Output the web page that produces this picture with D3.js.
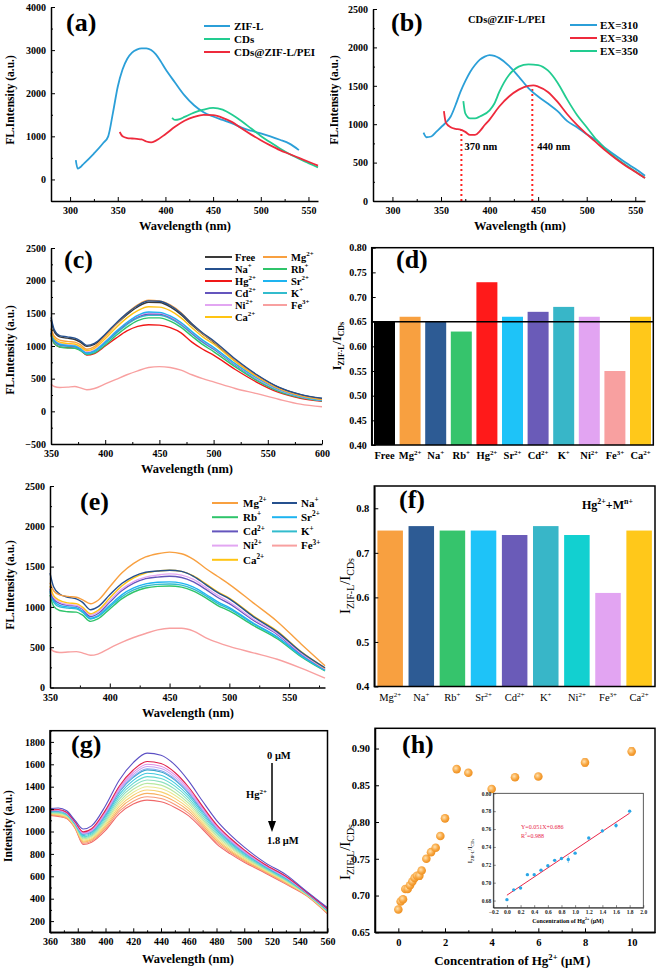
<!DOCTYPE html>
<html><head><meta charset="utf-8">
<script src="https://cdn.jsdelivr.net/npm/d3@7"></script>
<style>body{margin:0;background:#fff}svg{display:block}</style>
</head><body>
<script>
// ---------------- DATA ----------------
// (a)
const aWaveZIF = [306,308,315,325,335,340,345,350,355,360,365,370,375,380,385,390,395,400,410,420,430,440,450,460,470,480,490,500,510,520,530,540];
const aZIF     = [450,250,380,600,850,1000,1550,2150,2550,2800,2940,3010,3040,3040,3000,2900,2740,2560,2250,1950,1720,1560,1460,1380,1300,1200,1130,1070,1000,920,830,680];
const aWaveCDs = [407,410,415,420,430,440,450,460,470,480,490,500,510,520,530,540,550,560];
const aCDs     = [1430,1380,1400,1450,1550,1620,1660,1620,1500,1350,1180,1010,860,720,590,480,380,280];
const aWavePEI = [352,355,360,365,370,375,380,385,390,400,410,420,430,440,450,460,470,480,490,500,510,520,530,540,550,560];
const aPEI     = [1100,1000,960,950,940,930,880,860,900,1050,1220,1360,1450,1500,1490,1430,1330,1180,1040,910,790,680,590,500,410,320];
const aNames = ["ZIF-L","CDs","CDs@ZIF-L/PEI"];
const aXTicks = [300,350,400,450,500,550];
const aYTicks = [0,1000,2000,3000,4000];
// (b)
const bWave310 = [332,335,340,345,350,355,360,365,370,375,380,385,390,395,400,405,410,420,430,440,450,460,470,480,490,500,510,520,530,540,550,560];
const b310     = [890,830,840,900,960,1020,1100,1250,1420,1560,1680,1770,1840,1880,1900,1890,1860,1760,1620,1470,1360,1270,1170,1040,960,870,790,680,590,500,420,330];
const bWave330 = [353,355,360,365,370,375,380,385,390,395,400,410,420,430,440,445,450,460,470,480,490,500,510,520,530,540,550,560];
const b330     = [1170,1020,960,940,930,900,860,860,910,990,1060,1230,1360,1450,1500,1505,1490,1420,1290,1130,990,870,760,650,550,460,380,300];
const bWave350 = [373,375,380,385,390,400,405,410,420,430,440,450,460,470,480,490,500,510,520,530,540,550,560];
const b350     = [1300,1140,1075,1075,1100,1180,1270,1420,1640,1750,1780,1770,1700,1540,1320,1120,960,800,670,560,470,385,300];
const bNames = ["EX=310","EX=330","EX=350"];
const bMarks = [[371,930],[444,1505]];
const bYTicks = [0,500,1000,1500,2000,2500];
// (c)
const cWave = [350,353,358,365,372,377,383,390,400,410,420,430,440,450,460,470,480,490,500,520,540,560,580,600];
const c_Na   = [1440,1250,1160,1140,1120,1080,1010,1040,1180,1350,1500,1620,1690,1685,1620,1500,1340,1200,1080,800,560,370,260,200];
const c_Mg   = [1270,1150,1090,1070,1060,1020,950,990,1150,1330,1500,1630,1700,1690,1630,1510,1340,1190,1070,780,540,350,240,185];
const c_Free = [1400,1220,1140,1120,1100,1060,995,1025,1165,1330,1480,1600,1670,1665,1600,1480,1320,1180,1060,785,550,365,255,195];
const c_Ca   = [1260,1120,1060,1040,1030,990,930,965,1110,1280,1430,1540,1600,1595,1540,1430,1280,1140,1030,760,530,350,240,180];
const c_Sr   = [1220,1090,1030,1010,1000,960,890,925,1060,1220,1360,1470,1520,1515,1460,1360,1220,1090,980,730,510,335,230,170];
const c_Ni   = [1230,1100,1040,1025,1015,975,910,940,1070,1225,1360,1460,1510,1505,1450,1350,1210,1080,970,720,500,330,225,168];
const c_Cd   = [1200,1080,1020,1005,995,955,900,930,1060,1210,1345,1445,1490,1490,1440,1340,1200,1070,960,715,500,330,225,168];
const c_K    = [1200,1070,1010,995,985,945,880,910,1040,1190,1325,1425,1470,1470,1420,1320,1185,1055,950,705,490,320,220,165];
const c_Rb   = [1160,1040,985,970,965,930,870,895,1015,1160,1290,1390,1430,1430,1380,1285,1150,1020,915,680,470,305,210,160];
const c_Hg   = [1180,1040,985,975,970,940,860,885,1000,1120,1230,1300,1325,1320,1280,1200,1060,950,860,640,445,290,200,155];
const c_Fe   = [420,380,365,370,380,360,330,350,420,490,560,620,670,685,670,630,560,500,450,350,270,185,110,70];
// (d)
const dCats = ["Free","Mg^{2+}","Na^{+}","Rb^{+}","Hg^{2+}","Sr^{2+}","Cd^{2+}","K^{+}","Ni^{2+}","Fe^{3+}","Ca^{2+}"];
const dVals = [0.65,0.66,0.65,0.63,0.73,0.66,0.67,0.68,0.66,0.55,0.66];
const dRef = 0.65;
// (e)
const eWave = [350,353,358,365,372,377,384,390,400,410,420,430,440,450,460,470,480,490,500,520,540,560,580];
const e_Mg = [1300,1200,1150,1130,1120,1090,1040,1080,1250,1420,1540,1620,1660,1680,1660,1590,1480,1380,1280,1050,820,540,270];
const e_Na = [1420,1250,1160,1120,1100,1060,965,1000,1150,1290,1380,1430,1445,1455,1440,1380,1280,1180,1100,880,690,440,245];
const e_Ca = [1260,1140,1080,1050,1040,1000,915,955,1110,1260,1360,1420,1445,1455,1440,1385,1290,1190,1110,890,700,445,240];
const e_Ni = [1240,1120,1060,1030,1020,985,900,935,1080,1220,1315,1370,1395,1410,1395,1340,1245,1145,1060,850,670,425,230];
const e_Cd = [1220,1100,1045,1020,1010,975,880,915,1060,1200,1295,1350,1370,1380,1365,1310,1220,1120,1040,835,660,418,228];
const e_Sr = [1200,1080,1020,1000,990,950,860,890,1020,1150,1235,1285,1305,1310,1295,1245,1160,1065,990,800,630,400,215];
const e_K  = [1180,1060,1000,985,975,935,850,880,1000,1125,1210,1260,1280,1285,1270,1220,1140,1045,975,790,620,392,212];
const e_Rb = [1150,1010,955,940,935,900,820,850,975,1100,1185,1235,1255,1260,1245,1195,1115,1020,950,770,605,382,205];
const e_Fe = [490,450,435,440,445,430,400,415,490,560,620,670,715,735,735,700,620,560,510,430,350,240,115];
// (f)
const fCats = ["Mg^{2+}","Na^{+}","Rb^{+}","Sr^{2+}","Cd^{2+}","K^{+}","Ni^{2+}","Fe^{3+}","Ca^{2+}"];
const fVals = [0.75,0.76,0.75,0.75,0.74,0.76,0.74,0.61,0.75];
// (g)
const gWave = [360,366,372,378,384,390,400,410,420,430,440,450,460,470,480,490,500,515,530,545,560];
const gConc = ["0","0.1","0.2","0.3","0.4","0.5","0.6","0.7","0.8","0.9","1.0","1.2","1.4","1.6","1.8"];
const g_0_0 = [1204,1210,1185,1100,1022,1050,1230,1460,1615,1700,1681,1595,1450,1270,1100,970,860,722,615,465,320];
const g_0_1 = [1193,1197,1172,1087,997,1024,1191,1406,1549,1625,1607,1527,1395,1225,1062,940,836,706,600,458,310];
const g_0_2 = [1190,1192,1168,1083,989,1015,1178,1389,1527,1600,1582,1505,1376,1211,1050,930,828,700,595,455,307];
const g_0_3 = [1187,1189,1165,1080,983,1009,1167,1374,1509,1580,1562,1486,1361,1199,1040,921,821,696,591,454,304];
const g_0_4 = [1184,1185,1162,1077,976,1002,1157,1360,1492,1560,1542,1468,1347,1187,1030,913,815,691,587,452,302];
const g_0_5 = [1183,1183,1160,1075,973,998,1151,1353,1483,1550,1532,1459,1339,1181,1025,909,812,689,585,451,300];
const g_0_6 = [1178,1178,1155,1070,963,988,1136,1331,1456,1520,1503,1432,1317,1163,1010,897,802,683,579,448,296];
const g_0_7 = [1174,1172,1150,1065,953,977,1120,1310,1430,1490,1473,1405,1295,1145,995,885,792,676,572,445,292];
const g_0_8 = [1170,1167,1145,1060,944,967,1104,1289,1404,1460,1443,1378,1273,1127,980,873,783,669,566,442,289];
const g_0_9 = [1165,1162,1140,1055,934,957,1089,1267,1377,1430,1414,1351,1251,1109,965,861,773,663,560,439,285];
const g_1_0 = [1161,1156,1135,1050,924,946,1073,1246,1351,1400,1384,1324,1229,1092,950,849,764,656,554,436,281];
const g_1_2 = [1157,1151,1130,1045,914,936,1057,1224,1324,1370,1354,1296,1206,1074,935,836,754,650,548,434,277];
const g_1_4 = [1153,1146,1125,1040,905,926,1041,1203,1298,1340,1324,1269,1184,1056,920,824,744,643,542,431,273];
const g_1_6 = [1148,1140,1120,1035,895,915,1026,1181,1271,1310,1295,1242,1162,1038,905,812,735,637,536,428,269];
const g_1_8 = [1144,1135,1115,1030,885,905,1010,1160,1245,1280,1265,1215,1140,1020,890,800,725,630,530,425,265];
// (h)
const hConc  = [0,0.1,0.2,0.3,0.4,0.5,0.6,0.7,0.8,0.9,1.0,1.2,1.4,1.6,1.8,2.0,2.5,3.0,4.0,5.0,6.0,8.0,10.0];
const hRatio = [0.681,0.692,0.695,0.709,0.709,0.714,0.719,0.724,0.727,0.727,0.734,0.750,0.759,0.765,0.781,0.805,0.872,0.867,0.845,0.861,0.862,0.881,0.896];
const hErr   = [0.002,0.002,0.002,0.002,0.002,0.002,0.002,0.002,0.003,0.005,0.002,0.002,0.002,0.003,0.002,0.004,0.002,0.002,0.002,0.002,0.002,0.005,0.005];
const inConc  = [0,0.1,0.2,0.3,0.4,0.5,0.6,0.7,0.8,0.9,1.0,1.2,1.4,1.6,1.8];
const inRatio = [0.681,0.692,0.694,0.709,0.709,0.714,0.719,0.725,0.727,0.726,0.733,0.750,0.758,0.764,0.780];
const inErr   = [0.001,0.001,0.001,0.001,0.001,0.001,0.001,0.001,0.001,0.004,0.001,0.001,0.002,0.003,0.001];
const fitSlope = 0.051, fitIntercept = 0.686, fitR2 = "0.988";

// ---------------- STYLES ----------------
const FONT = "'Liberation Serif','Times New Roman',Times,serif";
const BLUE = "#2b9fd8", RED = "#ee2a3c", GREEN = "#22cc90";
const ionColor = {Free:"#3a3a3a", Mg:"#f8a040", Na:"#25508e", Rb:"#2fc46a", Hg:"#f01818", Sr:"#1eb4f0",
  Cd:"#6455bd", K:"#32bccd", Ni:"#e2a6f2", Fe:"#f8a0a0", Ca:"#ffc412"};
const dColors = ["#000000","#f8a040","#2d5b94","#36c46c","#ff1a1a","#1ec3f8","#6a5bb8","#38b6c8","#e2a4f2","#f8a0a0","#ffc81a"];
const fColors = ["#f8a040","#2d5b94","#36c46c","#1ec3f8","#6a5bb8","#38b6c8","#12d0d0","#e2a4f2","#ffc81a"];
const gColors = ["#5b4fc4","#e0204a","#e28ee6","#c8a4f2","#80a8f0","#3aa8c8","#40c8e0","#60d8d0","#90e0c0","#b8e8a0","#e8e890","#f8d070","#f8b060","#f89878","#f06868"];

// ---------------- HELPERS ----------------
const svg = d3.select("body").append("svg").attr("width",661).attr("height",969)
  .style("font-family",FONT);
const defs = svg.append("defs");
const rg = defs.append("radialGradient").attr("id","ball").attr("cx","40%").attr("cy","40%").attr("r","60%");
rg.append("stop").attr("offset","0%").attr("stop-color","#ffe2b0");
rg.append("stop").attr("offset","60%").attr("stop-color","#f8a844");
rg.append("stop").attr("offset","100%").attr("stop-color","#ee9020");
defs.append("clipPath").attr("id","clipB").append("rect").attr("x",330).attr("y",0).attr("width",331).attr("height",240);

function rich(t, str, fs){
  const parts = str.match(/\^\{[^}]*\}|_\{[^}]*\}|[^^_]+/g) || [];
  let shift = 0;
  parts.forEach(p=>{
    const ts = t.append("tspan");
    if(p[0]==="^"){ const s=-fs*0.42; ts.text(p.slice(2,-1)).attr("font-size",fs*0.66).attr("dy",s-shift); shift=s; }
    else if(p[0]==="_"){ const s=fs*0.28; ts.text(p.slice(2,-1)).attr("font-size",fs*0.66).attr("dy",s-shift); shift=s; }
    else { ts.text(p).attr("dy",-shift); shift=0; }
  });
  return t;
}
function label(g,x,y,str,fs,o={}){
  const t = g.append("text").attr("x",x).attr("y",y).attr("font-size",fs)
    .attr("font-weight",o.weight||"bold").attr("fill",o.fill||"#000")
    .attr("text-anchor",o.anchor||"start").attr("font-family",FONT);
  if(o.rotate) t.attr("transform",`rotate(${o.rotate},${x},${y})`);
  return rich(t,str,fs);
}
function styleAx(sel,fs,weight){
  sel.attr("font-family",FONT).attr("font-size",fs).attr("font-weight",weight||"bold");
  sel.select(".domain").attr("stroke-width",1.5).attr("stroke","#000");
  sel.selectAll(".tick line").attr("stroke-width",1).attr("stroke","#000");
  sel.selectAll(".tick text").attr("fill","#000");
}
function axes(c){
  const g = svg.append("g");
  const yb = c.y.range()[0], xl = c.x.range()[0];
  const fs = c.fs || 10;
  if(c.xMinor){ const m=g.append("g").attr("transform",`translate(0,${yb})`).call(d3.axisBottom(c.x).tickValues(c.xMinor).tickSizeInner(-2).tickSizeOuter(0).tickFormat("")); m.select(".domain").remove(); m.selectAll("line").attr("stroke","#000"); }
  if(c.yMinor){ const m=g.append("g").attr("transform",`translate(${xl},0)`).call(d3.axisLeft(c.y).tickValues(c.yMinor).tickSizeInner(-2).tickSizeOuter(0).tickFormat("")); m.select(".domain").remove(); m.selectAll("line").attr("stroke","#000"); }
  if(c.xTicks){
    const gx = g.append("g").attr("transform",`translate(0,${yb})`)
      .call(d3.axisBottom(c.x).tickValues(c.xTicks).tickSizeInner(-(c.tick||4)).tickSizeOuter(0).tickPadding(c.xpad||6).tickFormat(c.xFmt||d3.format("d")));
    styleAx(gx,fs,c.weight);
  }
  const gy = g.append("g").attr("transform",`translate(${xl},0)`)
    .call(d3.axisLeft(c.y).tickValues(c.yTicks).tickSizeInner(-(c.tick||4)).tickSizeOuter(0).tickPadding(c.ypad||5).tickFormat(c.yFmt||d3.format("d")));
  styleAx(gy,fs,c.weight);
  if(c.box){
    const [x0,x1]=c.x.range(), [y0,y1]=c.y.range();
    g.append("rect").attr("x",x0).attr("y",y1).attr("width",x1-x0).attr("height",y0-y1)
      .attr("fill","none").attr("stroke","#000").attr("stroke-width",c.boxW||1.5);
  }
  return g;
}
function drawLine(g,x,y,xs,ys,color,w){
  const pts = xs.map((v,i)=>[v,ys[i]]);
  g.append("path").datum(pts).attr("fill","none").attr("stroke",color).attr("stroke-width",w)
    .attr("stroke-linejoin","round")
    .attr("d",d3.line().x(d=>x(d[0])).y(d=>y(d[1])).curve(d3.curveMonotoneX));
}
function legendItem(g,x1,x2,tx,y,color,str,fs){
  g.append("line").attr("x1",x1).attr("x2",x2).attr("y1",y).attr("y2",y).attr("stroke",color).attr("stroke-width",2);
  label(g,tx,y+fs*0.35,str,fs);
}

// ---------------- PANEL (a) ----------------
{
  const x = d3.scaleLinear().domain([280,560]).range([51,318]);
  const y = d3.scaleLinear().domain([-500,4000]).range([201,7]);
  const g = svg.append("g");
  drawLine(g,x,y,aWaveZIF,aZIF,BLUE,1.8);
  drawLine(g,x,y,aWaveCDs,aCDs,GREEN,1.8);
  drawLine(g,x,y,aWavePEI,aPEI,RED,1.8);
  axes({x,y,xTicks:aXTicks,yTicks:aYTicks,xMinor:[325,375,425,475,525],yMinor:[-500,500,1500,2500,3500],fs:10});
  label(svg,66,31,"(a)",26);
  [BLUE,GREEN,RED].forEach((c,i)=>legendItem(svg,204,230,234,26+i*13,c,aNames[i],11));
  label(svg,185,230,"Wavelength (nm)",12.5,{anchor:"middle"});
  label(svg,14,100,"FL.Intensity (a.u.)",11.5,{anchor:"middle",rotate:-90});
}
// ---------------- PANEL (b) ----------------
{
  const x = d3.scaleLinear().domain([280,560]).range([373,645]);
  const y = d3.scaleLinear().domain([0,2500]).range([201,9]);
  const g = svg.append("g");
  bMarks.forEach(m=>{
    g.append("line").attr("x1",x(m[0])).attr("x2",x(m[0])).attr("y1",y(0)).attr("y2",y(m[1]))
      .attr("stroke","#ff2020").attr("stroke-width",2).attr("stroke-dasharray","2,3");
  });
  drawLine(g,x,y,bWave310,b310,BLUE,1.8);
  drawLine(g,x,y,bWave350,b350,GREEN,1.8);
  drawLine(g,x,y,bWave330,b330,RED,1.8);
  axes({x,y,xTicks:aXTicks,yTicks:bYTicks,xMinor:[325,375,425,475,525],yMinor:[250,750,1250,1750,2250],fs:10});
  label(svg,391,31,"(b)",26);
  label(svg,468,23,"CDs@ZIF-L/PEI",10.5);
  [BLUE,RED,GREEN].forEach((c,i)=>legendItem(svg,570,597,600,25+i*13,c,bNames[i],11));
  label(svg,x(bMarks[0][0])+3,150,"370 nm",10.5);
  label(svg,x(bMarks[1][0])+5,150,"440 nm",10.5);
  label(svg,520,230,"Wavelength (nm)",12.5,{anchor:"middle"});
  const yl = svg.append("g").attr("clip-path","url(#clipB)");
  label(yl,338,100,"FL.Intensity (a.u.)",11.5,{anchor:"middle",rotate:-90});
}
// ---------------- PANEL (c) ----------------
{
  const x = d3.scaleLinear().domain([350,600]).range([51,322]);
  const y = d3.scaleLinear().domain([-500,2500]).range([444,248]);
  const g = svg.append("g");
  const order = [["Fe",c_Fe],["Hg",c_Hg],["Rb",c_Rb],["K",c_K],["Cd",c_Cd],["Ni",c_Ni],["Sr",c_Sr],["Ca",c_Ca],["Free",c_Free],["Mg",c_Mg],["Na",c_Na]];
  order.forEach(([k,v])=>drawLine(g,x,y,cWave,v,ionColor[k],1.4));
  axes({x,y,xTicks:[350,400,450,500,550,600],yTicks:[-500,0,500,1000,1500,2000,2500],xMinor:[375,425,475,525,575],yMinor:[-250,250,750,1250,1750,2250],fs:10});
  label(svg,64,268,"(c)",26);
  const col1 = [["Free","Free"],["Na","Na^{+}"],["Hg","Hg^{2+}"],["Cd","Cd^{2+}"],["Ni","Ni^{2+}"],["Ca","Ca^{2+}"]];
  const col2 = [["Mg","Mg^{2+}"],["Rb","Rb^{+}"],["Sr","Sr^{2+}"],["K","K^{+}"],["Fe","Fe^{3+}"]];
  col1.forEach((d,i)=>legendItem(svg,205,232,235,257+i*12,ionColor[d[0]],d[1],10.5));
  col2.forEach((d,i)=>legendItem(svg,263,287,291,257+i*12,ionColor[d[0]],d[1],10.5));
  label(svg,187,473,"Wavelength (nm)",12.5,{anchor:"middle"});
  label(svg,14,350,"FL.Intensity (a.u.)",11.5,{anchor:"middle",rotate:-90});
}
// ---------------- PANEL (d) ----------------
{
  const x = d3.scaleBand().domain(dCats).range([371.7,653.3]).paddingInner(0.18).paddingOuter(0.09);
  const y = d3.scaleLinear().domain([0.40,0.80]).range([445,247.7]);
  const g = svg.append("g");
  g.selectAll("rect.bar").data(dCats).enter().append("rect")
    .attr("x",d=>x(d)).attr("width",x.bandwidth())
    .attr("y",(d,i)=>y(dVals[i])).attr("height",(d,i)=>y(0.40)-y(dVals[i]))
    .attr("fill",(d,i)=>dColors[i]);
  g.append("line").attr("x1",371.7).attr("x2",653.3).attr("y1",y(dRef)).attr("y2",y(dRef)).attr("stroke","#000").attr("stroke-width",1.5);
  axes({x:d3.scaleLinear().range([371.7,653.3]),y,yTicks:d3.range(0.40,0.801,0.05),yFmt:d3.format(".2f"),box:true,fs:10});
  dCats.forEach(d=>label(svg,x(d)+x.bandwidth()/2,459,d,10.5,{anchor:"middle"}));
  label(svg,396,268,"(d)",26);
  label(svg,341,346,"I_{ZIF-L}/I_{CDs}",12,{anchor:"middle",rotate:-90});
}
// ---------------- PANEL (e) ----------------
{
  const x = d3.scaleLinear().domain([350,580]).range([50,325]);
  const y = d3.scaleLinear().domain([0,2500]).range([687.5,486]);
  const g = svg.append("g");
  const order = [["Fe",e_Fe],["Rb",e_Rb],["K",e_K],["Sr",e_Sr],["Cd",e_Cd],["Ni",e_Ni],["Ca",e_Ca],["Na",e_Na],["Mg",e_Mg]];
  order.forEach(([k,v])=>drawLine(g,x,y,eWave,v,ionColor[k],1.4));
  axes({x,y,xTicks:[350,400,450,500,550],yTicks:[0,500,1000,1500,2000,2500],xMinor:[375,425,475,525,575],yMinor:[250,750,1250,1750,2250],fs:10});
  label(svg,80,510,"(e)",26);
  const col1 = [["Mg","Mg^{2+}"],["Rb","Rb^{+}"],["Cd","Cd^{2+}"],["Ni","Ni^{2+}"],["Ca","Ca^{2+}"]];
  const col2 = [["Na","Na^{+}"],["Sr","Sr^{2+}"],["K","K^{+}"],["Fe","Fe^{3+}"]];
  col1.forEach((d,i)=>legendItem(svg,212,238,243,503+i*14.2,ionColor[d[0]],d[1],11));
  col2.forEach((d,i)=>legendItem(svg,272,297,301,503+i*14.2,ionColor[d[0]],d[1],11));
  label(svg,188,717,"Wavelength (nm)",12.5,{anchor:"middle"});
  label(svg,14,585,"FL.Intensity (a.u.)",11.5,{anchor:"middle",rotate:-90});
}
// ---------------- PANEL (f) ----------------
{
  const x = d3.scaleBand().domain(fCats).range([374.3,655]).paddingInner(0.18).paddingOuter(0.1);
  const y = d3.scaleLinear().domain([0.4,0.85]).range([686.5,486]);
  const g = svg.append("g");
  g.selectAll("rect.bar").data(fCats).enter().append("rect")
    .attr("x",d=>x(d)).attr("width",x.bandwidth())
    .attr("y",(d,i)=>y(fVals[i])).attr("height",(d,i)=>y(0.4)-y(fVals[i]))
    .attr("fill",(d,i)=>fColors[i]);
  axes({x:d3.scaleLinear().range([374.3,655]),y,yTicks:[0.4,0.5,0.6,0.7,0.8],yFmt:d3.format(".1f"),box:true,fs:10.5});
  fCats.forEach(d=>label(svg,x(d)+x.bandwidth()/2,701,d,10.5,{anchor:"middle",weight:"normal"}));
  label(svg,399,508,"(f)",26);
  label(svg,582,509,"Hg^{2+}+M^{n+}",12);
  label(svg,350,586,"I_{ZIF-L}/I_{CDs}",15,{anchor:"middle",rotate:-90,weight:"normal"});
}
// ---------------- PANEL (g) ----------------
{
  const x = d3.scaleLinear().domain([360,560]).range([50,327.5]);
  const y = d3.scaleLinear().domain([100,1900]).range([932.3,730.7]);
  const g = svg.append("g");
  const series = [g_0_0,g_0_1,g_0_2,g_0_3,g_0_4,g_0_5,g_0_6,g_0_7,g_0_8,g_0_9,g_1_0,g_1_2,g_1_4,g_1_6,g_1_8];
  for(let i=series.length-1;i>=0;i--) drawLine(g,x,y,gWave,series[i],gColors[i],1.1);
  axes({x,y,xTicks:d3.range(360,561,20),yTicks:d3.range(200,1801,200),xMinor:d3.range(370,560,20),yMinor:d3.range(100,1901,200),box:true,fs:10});
  label(svg,71,753,"(g)",26);
  label(svg,267,759,"0 μM",10.5);
  svg.append("line").attr("x1",272).attr("x2",272).attr("y1",763).attr("y2",822).attr("stroke","#000").attr("stroke-width",1.5);
  svg.append("path").attr("d","M268,821 L276,821 L272,832 Z").attr("fill","#000");
  label(svg,246,798,"Hg^{2+}",10.5);
  label(svg,267,844,"1.8 μM",10.5);
  label(svg,188,963,"Wavelength (nm)",12.5,{anchor:"middle"});
  label(svg,12,826,"Intensity (a.u.)",11.5,{anchor:"middle",rotate:-90});
}
// ---------------- PANEL (h) ----------------
{
  const x = d3.scaleLinear().domain([-1,11]).range([375,655]);
  const y = d3.scaleLinear().domain([0.65,0.9275]).range([932.3,728.3]);
  const g = svg.append("g");
  axes({x,y,xTicks:[0,2,4,6,8,10],yTicks:[0.65,0.70,0.75,0.80,0.85,0.90],yFmt:d3.format(".2f"),xMinor:[1,3,5,7,9],box:true,fs:10.5});
  hConc.forEach((c,i)=>{
    g.append("line").attr("x1",x(c)).attr("x2",x(c)).attr("y1",y(hRatio[i]-hErr[i])).attr("y2",y(hRatio[i]+hErr[i]))
      .attr("stroke","#f0a040").attr("stroke-width",1);
    [hRatio[i]-hErr[i],hRatio[i]+hErr[i]].forEach(v=>g.append("line").attr("x1",x(c)-2.5).attr("x2",x(c)+2.5).attr("y1",y(v)).attr("y2",y(v)).attr("stroke","#f0a040").attr("stroke-width",1));
  });
  g.selectAll("circle.pt").data(hConc).enter().append("circle")
    .attr("cx",d=>x(d)).attr("cy",(d,i)=>y(hRatio[i])).attr("r",4.3).attr("fill","url(#ball)");
  label(svg,402,753,"(h)",26);
  label(svg,516,965,"Concentration of Hg^{2+} (μM）",13,{anchor:"middle"});
  label(svg,350,852,"I_{ZIF-L}/I_{CDs}",15,{anchor:"middle",rotate:-90,weight:"normal"});

  // inset
  const ix = d3.scaleLinear().domain([-0.2,2.0]).range([493.3,643.3]);
  const iy = d3.scaleLinear().domain([0.672,0.80]).range([907.7,793.3]);
  const ig = svg.append("g");
  ig.append("rect").attr("x",493.3).attr("y",793.3).attr("width",150).attr("height",114.4).attr("fill","#fff");
  const gx = ig.append("g").attr("transform","translate(0,907.7)")
    .call(d3.axisBottom(ix).tickValues(d3.range(-0.2,2.01,0.2)).tickSizeInner(-2.5).tickSizeOuter(0).tickPadding(2).tickFormat(d3.format(".1f")));
  const gy = ig.append("g").attr("transform","translate(493.3,0)")
    .call(d3.axisLeft(iy).tickValues(d3.range(0.68,0.801,0.02)).tickSizeInner(-2.5).tickSizeOuter(0).tickPadding(2).tickFormat(d3.format(".2f")));
  [gx,gy].forEach(s=>{ s.attr("font-family",FONT).attr("font-size",5.5).attr("font-weight","bold");
    s.select(".domain").attr("stroke","#333").attr("stroke-width",0.8); s.selectAll(".tick line").attr("stroke","#333").attr("stroke-width",0.6);
    s.selectAll(".tick text").attr("fill","#222"); });
  ig.append("rect").attr("x",493.3).attr("y",793.3).attr("width",150).attr("height",114.4)
    .attr("fill","none").attr("stroke","#333").attr("stroke-width",0.8);
  ig.append("line").attr("x1",ix(0)).attr("x2",ix(1.8))
    .attr("y1",iy(fitIntercept)).attr("y2",iy(fitIntercept+fitSlope*1.8))
    .attr("stroke","#e8264a").attr("stroke-width",1);
  inConc.forEach((c,i)=>{
    ig.append("line").attr("x1",ix(c)).attr("x2",ix(c)).attr("y1",iy(inRatio[i]-inErr[i])).attr("y2",iy(inRatio[i]+inErr[i]))
      .attr("stroke","#7cc8f0").attr("stroke-width",0.8);
  });
  ig.selectAll("path.pt").data(inConc).enter().append("path")
    .attr("transform",(d,i)=>`translate(${ix(d)},${iy(inRatio[i])})`)
    .attr("d",d3.symbol().type(d3.symbolCircle).size(9)).attr("fill","#2aa6e6");
  label(ig,521,829,`Y=${fitSlope}X+${fitIntercept}`,6,{fill:"#e8264a",weight:"normal"});
  label(ig,521,838,`R^{2}=${fitR2}`,6,{fill:"#e8264a",weight:"normal"});
  label(ig,568,923,"Concentration of Hg^{2+} (μM)",6,{anchor:"middle"});
  label(ig,472,851,"I_{ZIF-L}/I_{CDs}",6.5,{anchor:"middle",rotate:-90,weight:"normal"});
}
</script>
</body></html>
